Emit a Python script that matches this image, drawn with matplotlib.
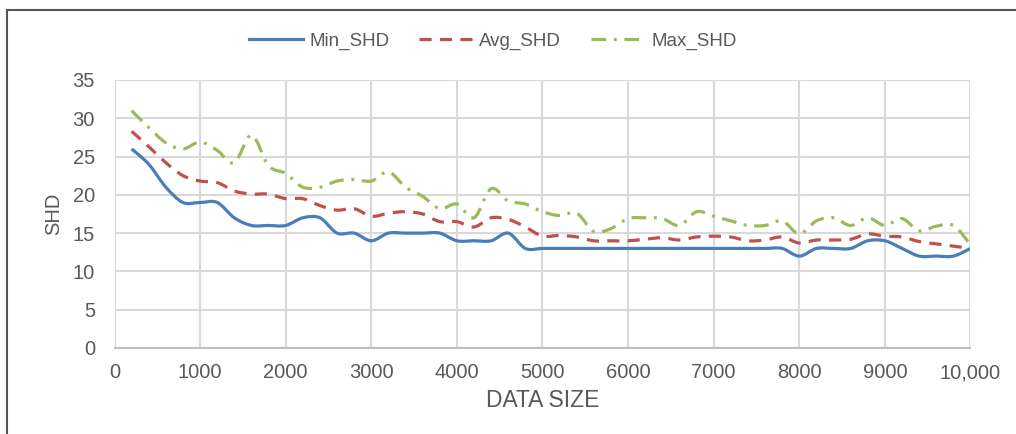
import matplotlib
matplotlib.use("Agg")
import matplotlib.pyplot as plt
from matplotlib.path import Path
from matplotlib.patches import PathPatch
from matplotlib.lines import Line2D

# data
data_size = [200, 400, 600, 800, 1000, 1200, 1400, 1600, 1800, 2000,
             2200, 2400, 2600, 2800, 3000, 3200, 3400, 3600, 3800, 4000,
             4200, 4400, 4600, 4800, 5000, 5200, 5400, 5600, 5800, 6000,
             6200, 6400, 6600, 6800, 7000, 7200, 7400, 7600, 7800, 8000,
             8200, 8400, 8600, 8800, 9000, 9200, 9400, 9600, 9800, 10000]

min_shd = [26, 24, 21, 19, 19, 19, 17, 16, 16, 16,
           17, 17, 15, 15, 14, 15, 15, 15, 15, 14,
           14, 14, 15, 13, 13, 13, 13, 13, 13, 13,
           13, 13, 13, 13, 13, 13, 13, 13, 13, 12,
           13, 13, 13, 14, 14, 13, 12, 12, 12, 13]

avg_shd = [28.3, 26.3, 24.2, 22.5, 21.8, 21.6, 20.5, 20.1, 20.1, 19.5,
           19.5, 18.6, 18.0, 18.2, 17.2, 17.6, 17.8, 17.5, 16.5, 16.5,
           15.8, 17.0, 16.8, 15.8, 14.6, 14.7, 14.5, 14.0, 14.0, 14.0,
           14.2, 14.4, 14.1, 14.5, 14.6, 14.5, 14.0, 14.1, 14.5, 13.7,
           14.1, 14.1, 14.2, 14.9, 14.6, 14.5, 13.9, 13.6, 13.3, 13.0]

max_shd = [31.0, 28.8, 26.8, 26.0, 26.9, 25.8, 24.2, 27.8, 23.8, 22.8,
           21.0, 21.0, 21.8, 22.0, 21.8, 23.0, 21.0, 19.8, 18.2, 18.8,
           17.0, 20.8, 19.2, 18.8, 17.8, 17.3, 17.6, 15.2, 15.6, 16.9,
           17.0, 16.9, 16.0, 17.8, 17.2, 16.6, 16.0, 16.0, 16.6, 14.9,
           16.6, 17.0, 16.0, 17.0, 16.0, 16.9, 15.3, 15.9, 16.0, 13.5]

x_ticks = [0, 1000, 2000, 3000, 4000, 5000, 6000, 7000, 8000, 9000, 10000]
x_tick_labels = ["0", "1000", "2000", "3000", "4000", "5000", "6000",
                 "7000", "8000", "9000", "10,000"]
y_ticks = [0, 5, 10, 15, 20, 25, 30, 35]

BLUE = "#4a7ebb"
RED = "#c0504d"
GREEN = "#9bbb59"
TXT = "#595959"
GRID = "#d9d9d9"


def smooth_path(xs, ys):
    # excel style smoothed line: cubic bezier segments through the points
    verts = [(xs[0], ys[0])]
    codes = [Path.MOVETO]
    n = len(xs)
    for i in range(n - 1):
        p0 = (xs[max(i - 1, 0)], ys[max(i - 1, 0)])
        p1 = (xs[i], ys[i])
        p2 = (xs[i + 1], ys[i + 1])
        p3 = (xs[min(i + 2, n - 1)], ys[min(i + 2, n - 1)])
        c1 = (p1[0] + (p2[0] - p0[0]) / 6, p1[1] + (p2[1] - p0[1]) / 6)
        c2 = (p2[0] - (p3[0] - p1[0]) / 6, p2[1] - (p3[1] - p1[1]) / 6)
        verts += [c1, c2, p2]
        codes += [Path.CURVE4] * 3
    return Path(verts, codes)


plt.rcParams['font.family'] = ['Liberation Sans', 'DejaVu Sans']

fig = plt.figure(figsize=(10.16, 4.34), dpi=100)
ax = fig.add_axes([0.1127, 0.1982, 0.8425, 0.6175])

LW = 2.3
series = [
    ("Min_SHD", min_shd, BLUE, "-"),
    ("Avg_SHD", avg_shd, RED, (0, (3.8, 2.6))),
    ("Max_SHD", max_shd, GREEN, (0, (4.6, 2.4, 0.9, 2.4))),
]
handles = []
for name, vals, col, ls in series:
    patch = PathPatch(smooth_path(data_size, vals), facecolor="none",
                      edgecolor=col, linewidth=LW, linestyle=ls,
                      capstyle="butt", zorder=3)
    ax.add_patch(patch)
    handles.append(Line2D([], [], color=col, linewidth=LW, linestyle=ls))

ax.set_xlim(0, 10000)
ax.set_ylim(0, 35)
ax.set_xticks(x_ticks)
ax.set_xticklabels(x_tick_labels)
ax.set_yticks(y_ticks)
ax.grid(True, color=GRID, linewidth=1.5)
ax.set_axisbelow(True)
for s in ["top", "right", "left"]:
    ax.spines[s].set_visible(False)
ax.spines["bottom"].set_color("#bfbfbf")
ax.spines["bottom"].set_linewidth(1.5)
ax.tick_params(length=0, labelsize=14.5, labelcolor=TXT)
ax.tick_params(axis="x", pad=11)
ax.tick_params(axis="y", pad=14)

ax.set_xlabel("DATA SIZE", fontsize=16.5, color=TXT, labelpad=5)
ax.set_ylabel("SHD", fontsize=14.5, color=TXT, labelpad=7)

fig.legend(handles, ["Min_SHD", "Avg_SHD", "Max_SHD"], loc="center",
           bbox_to_anchor=(0.485, 0.905), ncol=3, frameon=False,
           fontsize=13.5, handlelength=2.9, columnspacing=1.6,
           handletextpad=0.3, labelcolor=TXT)

# outer frame of the chart area
fig.add_artist(Line2D([7 / 1016, 7 / 1016], [0, 1 - 10 / 434],
                      transform=fig.transFigure, color="#555555", linewidth=1.5))
fig.add_artist(Line2D([7 / 1016, 1], [1 - 10 / 434, 1 - 10 / 434],
                      transform=fig.transFigure, color="#555555", linewidth=1.5))

fig.savefig("out.png", dpi=100, facecolor="white")
